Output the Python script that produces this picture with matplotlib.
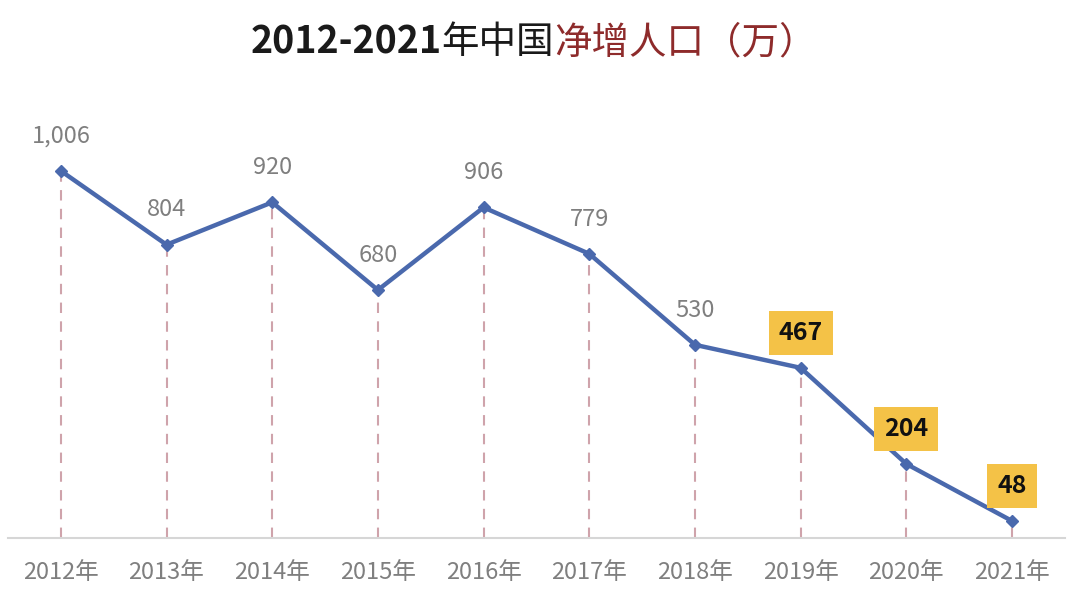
import matplotlib
matplotlib.use("Agg")
import matplotlib.pyplot as plt

plt.rcParams['font.family'] = ['Noto Sans CJK SC', 'DejaVu Sans']

years = ['2012年', '2013年', '2014年', '2015年', '2016年',
         '2017年', '2018年', '2019年', '2020年', '2021年']
values = [1006, 804, 920, 680, 906, 779, 530, 467, 204, 48]
labels = ['1,006', '804', '920', '680', '906', '779', '530', '467', '204', '48']
highlight = [False, False, False, False, False, False, False, True, True, True]

LINE = '#4a69ad'
DROP = '#cfa3ab'
GRAY = '#7f7f7f'
BOX = '#f4c247'


def main():
    fig = plt.figure(figsize=(10.8, 6.06), dpi=100)
    ax = fig.add_axes([0.0074, 0.1114, 0.9786, 0.7236])
    x = list(range(len(values)))

    # dashed drop lines from the axis to each point
    for xi, v in zip(x, values):
        ax.plot([xi, xi], [0, v], color=DROP, lw=1.5, ls=(0, (5, 4)), zorder=1)

    ax.plot(x, values, color=LINE, lw=3.2, marker='D', ms=6, zorder=3)

    for xi, v, lab, hl in zip(x, values, labels, highlight):
        if hl:
            ax.annotate(lab, (xi, v), xytext=(0, 25), textcoords='offset points',
                        ha='center', va='center', fontsize=18, fontweight='bold',
                        color='#111111', zorder=5,
                        bbox=dict(boxstyle='square,pad=0.4', fc=BOX, ec='none'))
        else:
            ax.annotate(lab, (xi, v), xytext=(0, 25), textcoords='offset points',
                        ha='center', va='center', fontsize=17, color=GRAY, zorder=5)

    ax.set_xlim(-0.5, 9.5)
    ax.set_ylim(0, 1200)
    ax.set_xticks(x)
    ax.set_xticklabels(years, fontsize=17, color=GRAY)
    ax.tick_params(axis='x', length=0, pad=16)
    ax.set_yticks([])
    for s in ['top', 'left', 'right']:
        ax.spines[s].set_visible(False)
    ax.spines['bottom'].set_color('#d6d6d6')
    ax.spines['bottom'].set_linewidth(1.5)

    # title in three pieces: bold years, black text, dark red text
    t1 = fig.text(0.232, 0.93, '2012-2021', fontsize=27, fontweight='bold',
                  color='#1a1a1a', va='center', ha='left')
    t2 = ax.annotate('年中国', xy=(1, 0), xycoords=t1, fontsize=27,
                     color='#1a1a1a', va='bottom', ha='left')
    ax.annotate('净增人口（万）', xy=(1, 0), xycoords=t2, fontsize=27,
                color='#8e2b2b', va='bottom', ha='left')

    fig.savefig('out.png', dpi=100, facecolor='white')


if __name__ == '__main__':
    main()
